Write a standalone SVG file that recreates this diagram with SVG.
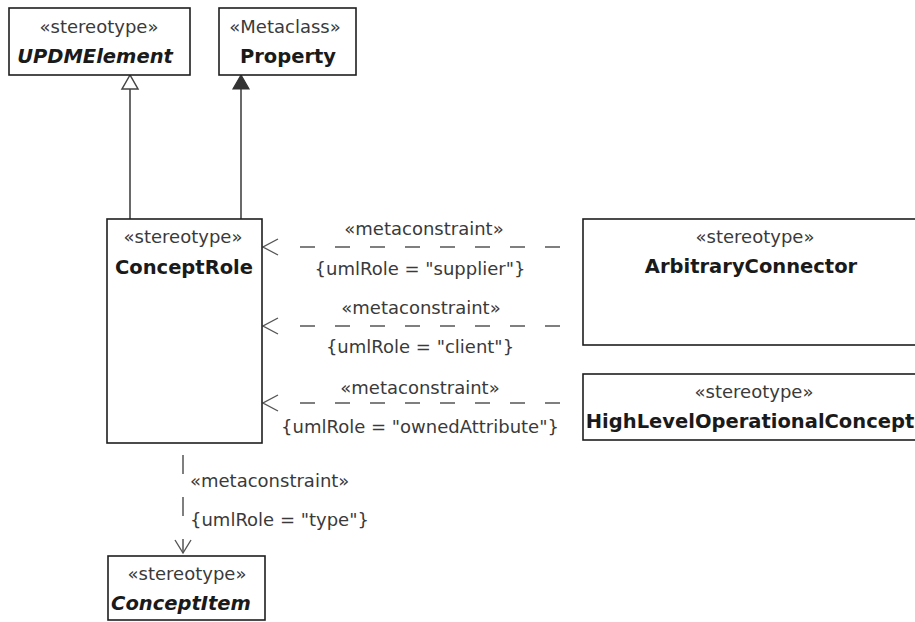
<svg xmlns="http://www.w3.org/2000/svg" width="915" height="622" viewBox="0 0 915 622">
<style>
  .box { fill: #ffffff; stroke: #1e1e1e; stroke-width: 1.6; }
  .st { font-family: "DejaVu Sans", "Liberation Sans", sans-serif; font-size: 18px; fill: #3a3a3a; text-anchor: middle; }
  .nm { font-family: "DejaVu Sans", "Liberation Sans", sans-serif; font-size: 19.5px; font-weight: bold; fill: #1a1a1a; text-anchor: middle; }
  .it { font-style: italic; }
  .lbl { font-family: "DejaVu Sans", "Liberation Sans", sans-serif; font-size: 18px; fill: #3a3a3a; }
  .mid { text-anchor: middle; }
  .solid { stroke: #444444; stroke-width: 1.6; fill: none; }
  .dash { stroke: #555555; stroke-width: 1.5; fill: none; stroke-dasharray: 15 20; }
  .vdash { stroke: #555555; stroke-width: 1.5; fill: none; stroke-dasharray: 19 23; }
  .open { stroke: #555555; stroke-width: 1.4; fill: none; }
</style>
<rect width="915" height="622" fill="#ffffff"/>

<g id="connectors">
  <!-- generalization to UPDMElement -->
  <line class="solid" x1="130" y1="89" x2="130" y2="219"/>
  <polygon points="130,75 122,89 138,89" fill="#ffffff" stroke="#444444" stroke-width="1.5"/>
  <!-- extension to Property -->
  <line class="solid" x1="241" y1="89" x2="241" y2="219"/>
  <polygon points="241,75 233,89 249,89" fill="#333333" stroke="#333333" stroke-width="1.2"/>

  <!-- ArbitraryConnector supplier -->
  <line class="dash" x1="300" y1="247" x2="560" y2="247"/>
  <polyline class="open" points="278,239 263,247 278,255"/>
  <text class="lbl mid" x="424" y="235">«metaconstraint»</text>
  <text class="lbl mid" x="420" y="275">{umlRole = "supplier"}</text>

  <!-- ArbitraryConnector client -->
  <line class="dash" x1="300" y1="326" x2="560" y2="326"/>
  <polyline class="open" points="278,318 263,326 278,334"/>
  <text class="lbl mid" x="421" y="314">«metaconstraint»</text>
  <text class="lbl mid" x="420" y="353">{umlRole = "client"}</text>

  <!-- HighLevelOperationalConcept ownedAttribute -->
  <line class="dash" x1="300" y1="403" x2="560" y2="403"/>
  <polyline class="open" points="278,395 263,403 278,411"/>
  <text class="lbl mid" x="420" y="394">«metaconstraint»</text>
  <text class="lbl mid" x="420" y="433">{umlRole = "ownedAttribute"}</text>

  <!-- ConceptItem type -->
  <line class="vdash" x1="183" y1="455" x2="183" y2="553"/>
  <polyline class="open" points="175,540 183,553 191,540"/>
  <text class="lbl" x="190" y="487">«metaconstraint»</text>
  <text class="lbl" x="190" y="526">{umlRole = "type"}</text>
</g>

<g id="UPDMElement">
  <rect class="box" x="9" y="8" width="181" height="67"/>
  <text class="st" x="99" y="33">«stereotype»</text>
  <text class="nm it" x="95" y="63">UPDMElement</text>
</g>

<g id="Property">
  <rect class="box" x="219" y="8" width="137" height="67"/>
  <text class="st" x="285" y="33">«Metaclass»</text>
  <text class="nm" x="288" y="63">Property</text>
</g>

<g id="ConceptRole">
  <rect class="box" x="107" y="219" width="155" height="224"/>
  <text class="st" x="183" y="243">«stereotype»</text>
  <text class="nm" x="184" y="274">ConceptRole</text>
</g>

<g id="ArbitraryConnector">
  <rect class="box" x="583" y="219" width="345" height="126"/>
  <text class="st" x="755" y="243">«stereotype»</text>
  <text class="nm" x="751" y="273">ArbitraryConnector</text>
</g>

<g id="HighLevelOperationalConcept">
  <rect class="box" x="583" y="374" width="345" height="66"/>
  <text class="st" x="754" y="398">«stereotype»</text>
  <text class="nm" x="750" y="428">HighLevelOperationalConcept</text>
</g>

<g id="ConceptItem">
  <rect class="box" x="108" y="556" width="157" height="64"/>
  <text class="st" x="187" y="580">«stereotype»</text>
  <text class="nm it" x="181" y="610">ConceptItem</text>
</g>
</svg>
